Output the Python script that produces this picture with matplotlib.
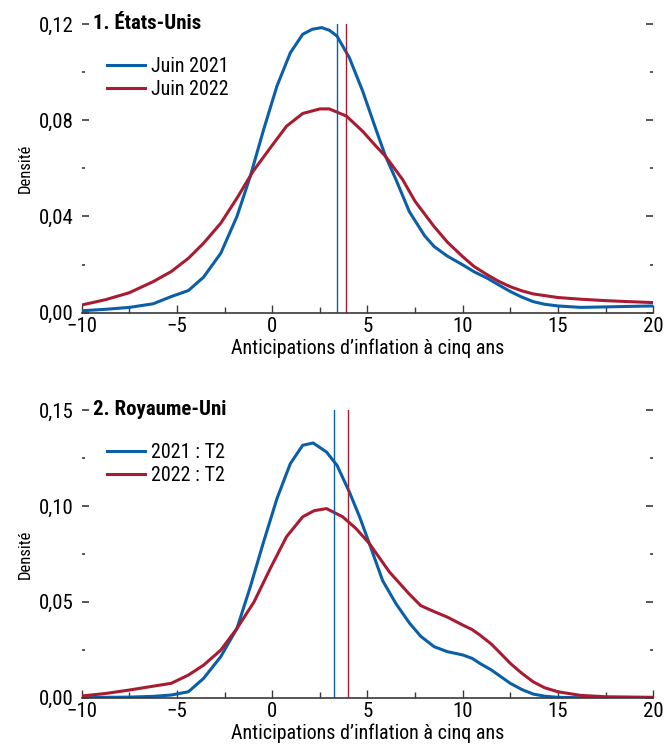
import matplotlib.pyplot as plt
from matplotlib.ticker import MultipleLocator, FuncFormatter

# --------------------------------------------------
# Data
# --------------------------------------------------

us_2021_x = [-10, -8.75, -7.5, -6.25, -5.3, -4.4, -3.6, -2.7, -1.85, -1.15,
             -0.45, 0.25, 0.95, 1.6, 2.1, 2.6, 3.0, 3.4, 4.05, 4.75, 5.45,
             5.95, 6.5, 7.2, 8.0, 8.5, 9.2, 10, 10.6, 11.3, 11.9, 12.5, 13.1,
             13.7, 14.3, 15, 16.2, 17.5, 18.7, 20]
us_2021_y = [0.0008, 0.0014, 0.0022, 0.0037, 0.0067, 0.0092, 0.0148, 0.0247,
             0.040, 0.0567, 0.0761, 0.0942, 0.108, 0.1157, 0.1178, 0.1185,
             0.1174, 0.115, 0.106, 0.0921, 0.0761, 0.065, 0.0553, 0.042,
             0.032, 0.0275, 0.0235, 0.0199, 0.017, 0.0143, 0.0115, 0.0088,
             0.0065, 0.0046, 0.0035, 0.0028, 0.0022, 0.0024, 0.0026, 0.0028]

us_2022_x = [-10, -8.75, -7.5, -6.25, -5.3, -4.4, -3.6, -2.7, -1.85, -1.0,
             -0.1, 0.75, 1.6, 2.5, 3.0, 3.9, 4.75, 5.45, 5.95, 6.85, 7.5, 8.5,
             9.2, 10, 10.6, 11.3, 11.9, 12.5, 13.1, 13.7, 15, 16.2, 17.5,
             18.7, 20]
us_2022_y = [0.0032, 0.0054, 0.0083, 0.0129, 0.0171, 0.0226, 0.0289, 0.0372,
             0.0476, 0.0588, 0.0685, 0.0775, 0.0828, 0.0847, 0.0847, 0.0817,
             0.0754, 0.0692, 0.065, 0.0553, 0.0463, 0.0358, 0.0293, 0.0233,
             0.0192, 0.0157, 0.013, 0.0108, 0.0091, 0.0078, 0.0063, 0.0056,
             0.005, 0.0046, 0.0042]

uk_2021_x = [-10, -8.75, -7.5, -6.25, -5.3, -4.4, -3.6, -2.7, -1.85, -1.15,
             -0.45, 0.25, 0.95, 1.6, 2.15, 2.85, 3.4, 4.05, 4.6, 5.1, 5.8,
             6.5, 7.2, 7.8, 8.5, 9.2, 10, 10.5, 10.9, 11.5, 12.5, 13.1, 13.7,
             14.3, 15, 16.2, 17.5, 20]
uk_2021_y = [0.0002, 0.0002, 0.0003, 0.0007, 0.0014, 0.0031, 0.0101, 0.0214,
             0.0361, 0.0578, 0.0813, 0.1038, 0.122, 0.1316, 0.1328, 0.1281,
             0.1212, 0.1073, 0.094, 0.0804, 0.061, 0.049, 0.039, 0.032,
             0.0266, 0.024, 0.0223, 0.0205, 0.0179, 0.0145, 0.0075, 0.0043,
             0.0019, 0.0008, 0.0002, 0.0, 0.0, 0.0]

uk_2022_x = [-10, -8.75, -7.5, -6.25, -5.3, -4.4, -3.6, -2.7, -1.85, -0.95,
             -0.1, 0.75, 1.6, 2.2, 2.85, 3.7, 4.4, 5.1, 6.15, 7.2, 7.8, 8.5,
             9.2, 10, 10.5, 10.9, 11.5, 12.0, 12.5, 13.1, 13.7, 14.3, 15,
             16.2, 17.5, 20]
uk_2022_y = [0.0009, 0.0022, 0.004, 0.006, 0.0075, 0.0118, 0.017, 0.0248,
             0.0361, 0.050, 0.0674, 0.0839, 0.0943, 0.0975, 0.0986, 0.0943,
             0.0882, 0.0804, 0.0656, 0.054, 0.048, 0.0449, 0.042, 0.0379,
             0.0355, 0.0327, 0.028, 0.023, 0.0179, 0.0128, 0.0083, 0.0052,
             0.0031, 0.0012, 0.0005, 0.0002]

# means (vertical lines)
us_means = [3.41, 3.9]
uk_means = [3.22, 4.0]

us_labels = ["Juin 2021", "Juin 2022"]
uk_labels = ["2021 : T2", "2022 : T2"]

titles = ["1. États-Unis", "2. Royaume-Uni"]
xlabel = "Anticipations d\u2019inflation à cinq ans"
ylabel = "Densité"

BLUE = "#0a5fa8"
RED = "#a81c32"
GREY = "#3a3a3a"

plt.rcParams["font.family"] = ["Liberation Sans Narrow", "Roboto Condensed",
                               "DejaVu Sans"]
plt.rcParams["font.stretch"] = "condensed"


def comma(v, pos):
    return f"{v:.2f}".replace(".", ",")


def minus(v, pos):
    return f"{v:g}".replace("-", "\u2212")


def draw_panel(ax, series, means, labels, title, ymax, ystep):

    for (x, y), lab, col in zip(series, labels, [BLUE, RED]):
        ax.plot(x, y, color=col, linewidth=2.2, label=lab)

    ax.axvline(means[0], color=BLUE, linewidth=1.0)
    ax.axvline(means[1], color=RED, linewidth=1.0)

    ax.set_xlim(-10, 20)
    ax.set_ylim(0, ymax)

    for s in ["top", "left", "right"]:
        ax.spines[s].set_visible(False)
    ax.spines["bottom"].set_color(GREY)
    ax.spines["bottom"].set_linewidth(1.2)

    ax.xaxis.set_major_locator(MultipleLocator(5))
    ax.xaxis.set_minor_locator(MultipleLocator(2.5))
    ax.yaxis.set_major_locator(MultipleLocator(ystep))
    ax.yaxis.set_minor_locator(MultipleLocator(ystep / 2))
    ax.yaxis.set_major_formatter(FuncFormatter(comma))
    ax.xaxis.set_major_formatter(FuncFormatter(minus))

    ax.tick_params(axis="both", which="both", direction="in",
                   color=GREY, labelsize=15)
    ax.tick_params(axis="y", which="both", left=True, right=True, pad=6)
    ax.tick_params(axis="y", which="major", length=5, width=1.2)
    ax.tick_params(axis="y", which="minor", length=2, width=1.2)
    ax.tick_params(axis="x", which="major", length=6, width=1.0, pad=3)
    ax.tick_params(axis="x", which="minor", length=4, width=1.0)

    ax.set_xlabel(xlabel, fontsize=14.4, labelpad=2)
    ax.set_ylabel(ylabel, fontsize=12, labelpad=4)

    ax.text(0.02, 1.0, title, transform=ax.transAxes, fontsize=15,
            fontweight="bold", va="center", ha="left")

    ax.legend(loc="upper left", bbox_to_anchor=(0.044, 0.885), frameon=False,
              fontsize=14.4, handlelength=1.9, handletextpad=0.3,
              labelspacing=0.2, borderaxespad=0, borderpad=0)


def main():

    fig = plt.figure(figsize=(6.66, 7.52), dpi=100)

    ax1 = fig.add_axes([0.1227, 0.5842, 0.858, 0.3839])
    ax2 = fig.add_axes([0.1227, 0.0722, 0.858, 0.3826])

    draw_panel(ax1, [(us_2021_x, us_2021_y), (us_2022_x, us_2022_y)],
               us_means, us_labels, titles[0], 0.12, 0.04)

    draw_panel(ax2, [(uk_2021_x, uk_2021_y), (uk_2022_x, uk_2022_y)],
               uk_means, uk_labels, titles[1], 0.15, 0.05)

    fig.savefig("out.png", dpi=100)
    plt.close(fig)


if __name__ == "__main__":
    main()
